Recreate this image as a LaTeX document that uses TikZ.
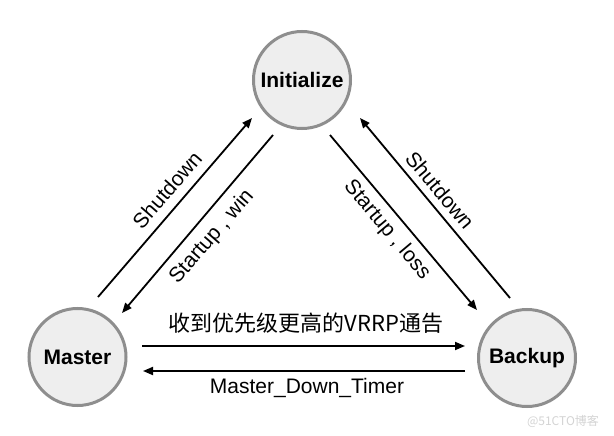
\documentclass[tikz,border=0pt]{standalone}
\usepackage{fontspec}
\setmainfont{Liberation Sans}
\newfontfamily\cjk{Noto Sans CJK SC}
\usetikzlibrary{arrows.meta}
\definecolor{circfill}{HTML}{EEEEEE}
\definecolor{circline}{HTML}{8E8E8E}
\definecolor{wmark}{HTML}{D4D4D4}
\begin{document}
\begin{tikzpicture}[x=1pt,y=-1pt,
  state/.style={circle, draw=circline, fill=circfill, line width=3pt, minimum size=97pt, inner sep=0pt, font=\fontsize{21}{25}\selectfont\bfseries},
  arr/.style={line width=1.8pt, -{Triangle[length=10pt,width=8pt]}},
  lab/.style={font=\fontsize{21}{25}\selectfont, inner sep=0pt}]
\useasboundingbox (0,0) rectangle (614,436);
\fill[white] (0,0) rectangle (614,436);
% states
\node[state] (I) at (302,80) {Initialize};
\node[state] (M) at (77.5,357) {Master};
\node[state] (B) at (527,358) {Backup};
% arrow end points
\coordinate (ms) at (98,297);
\coordinate (mi) at (252,118);
\coordinate (iw) at (273,135);
\coordinate (mw) at (122,313);
\coordinate (il) at (330,135);
\coordinate (bl) at (477,310);
\coordinate (bs) at (510,298);
\coordinate (is) at (360,118);
\coordinate (mt) at (142,346);
\coordinate (bt) at (465,346);
\coordinate (bd) at (465,371);
\coordinate (md) at (143,371);
% connectors
\draw[arr] (ms) -- (mi);
\draw[arr] (iw) -- (mw);
\draw[arr] (il) -- (bl);
\draw[arr] (bs) -- (is);
\draw[arr] (mt) -- (bt);
\draw[arr] (bd) -- (md);
% labels
\node[lab, rotate=49] (l1) at (167,190) {Shutdown};
\node[lab, rotate=49] (l2) at (212,237) {Startup , win};
\node[lab, rotate=-50] (l3) at (440,190) {Shutdown};
\node[lab, rotate=-50] (l4) at (387,230) {Startup , loss};
\node[lab, font=\cjk\fontsize{22}{26}\selectfont] (l5) at (306,323) {收到优先级更高的VRRP通告};
\node[lab] (l6) at (307,388) {Master\_Down\_Timer};
% watermark
\node[inner sep=0pt, text=wmark, font=\cjk\fontsize{12}{14}\selectfont] (wm) at (563,421) {@51CTO博客};
\end{tikzpicture}
\end{document}
